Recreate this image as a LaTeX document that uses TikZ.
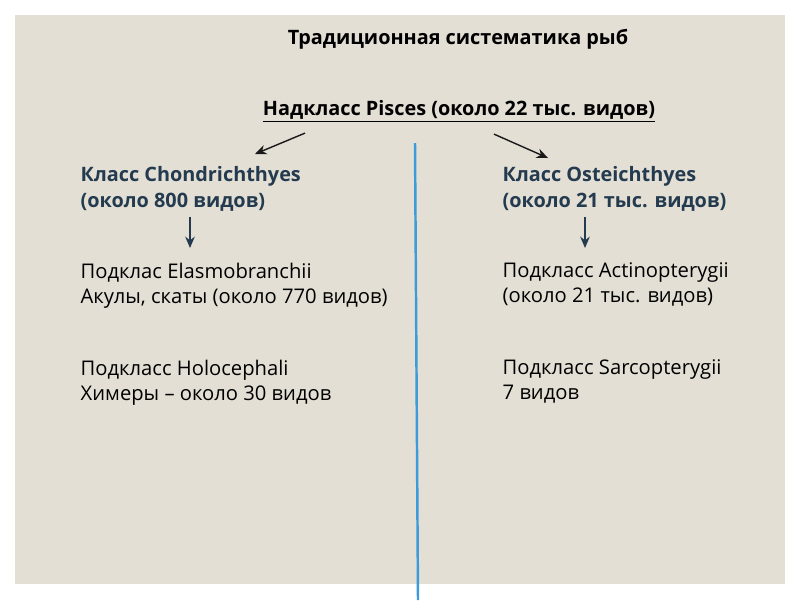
\documentclass[tikz,border=0pt]{standalone}
\usepackage{fontspec}
\setmainfont{Open Sans}
\usetikzlibrary{positioning,arrows.meta}
\definecolor{paper}{HTML}{E3DFD5}
\definecolor{classblue}{HTML}{243B4F}
\definecolor{axisblue}{HTML}{3C9BD8}

\begin{document}
\begin{tikzpicture}[x=0.02cm,y=-0.02cm,
    thick,
    >={Stealth[length=6.5pt,width=5.5pt]},
    txt/.style={inner sep=0pt,anchor=north west,align=left,
        font=\fontsize{11.5}{14.4}\selectfont},
    cls/.style={txt,font=\fontsize{11.3}{14.4}\selectfont\bfseries,text=classblue},
    head/.style={inner sep=0pt,anchor=base,font=\fontsize{11.3}{14}\selectfont\bfseries}]
    \useasboundingbox (0,0) rectangle (800,600);
    \fill[white] (0,0) rectangle (800,600);
    \fill[paper] (15,15) rectangle (785,584);
    % headings
    \node[head] (title) at (458,44) {Традиционная систематика рыб};
    \node[head] (pisces) at (459,115) {\underline{Надкласс Pisces (около 22 тыс. видов)}};
    % classes
    \node[cls] (chondr) at (80,166) {Класс Chondrichthyes\\(около 800 видов)};
    \node[cls] (osteich) at (502,166) {Класс Osteichthyes\\(около 21 тыс. видов)};
    % subclasses
    \node[txt] (elasmo) at (80,262) {Подклас Elasmobranchii\\Акулы, скаты (около 770 видов)};
    \node[txt] (holoceph) at (80,359) {Подкласс Holocephali\\Химеры -- около 30 видов};
    \node[txt] (actino) at (502,262) {Подкласс Actinopterygii\\(около 21 тыс. видов)};
    \node[txt] (sarco) at (502,359) {Подкласс Sarcopterygii\\7 видов};
    % connectors
    \draw[->,gray!20!black] ([shift={(-154,10)}]pisces.south) -- ([shift={(175,-12)}]chondr.north west);
    \draw[->,gray!20!black] ([shift={(35,11)}]pisces.south) -- ([shift={(46,-8)}]osteich.north west);
    \draw[->,classblue] ([shift={(110,5)}]chondr.south west) -- ([shift={(110,-14)}]elasmo.north west);
    \draw[->,classblue] ([shift={(83,5)}]osteich.south west) -- ([shift={(83,-14)}]actino.north west);
    \draw[axisblue,line width=1.4pt] (415,143) -- (418,600);
\end{tikzpicture}
\end{document}
